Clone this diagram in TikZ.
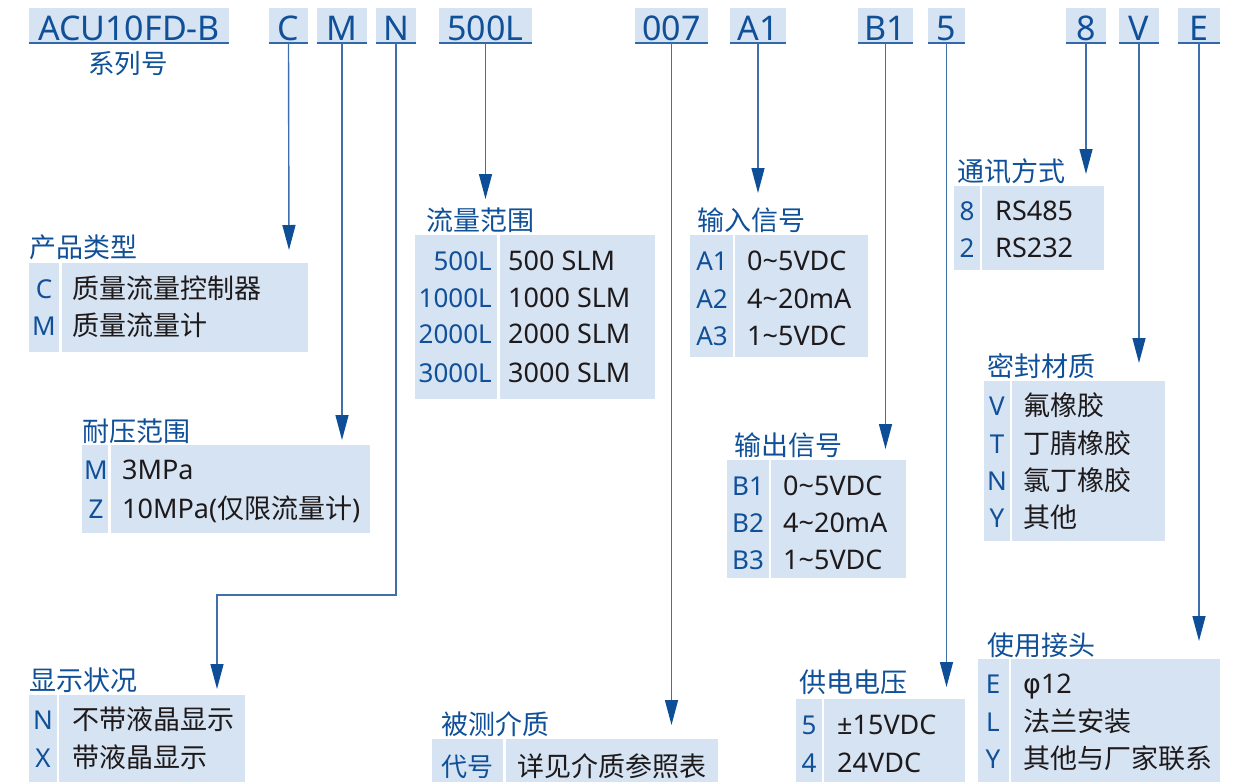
\documentclass[tikz,border=0pt]{standalone}
\usepackage{fontspec}
\setmainfont{Noto Sans}
\newfontfamily\cjk{Noto Sans CJK SC}
\newfontfamily\grk{DejaVu Sans}
\usetikzlibrary{arrows.meta}
\definecolor{cellfill}{RGB}{214,227,242}
\definecolor{codeblue}{RGB}{16,80,152}
\definecolor{linecol}{RGB}{62,112,172}
\definecolor{arrowcol}{RGB}{14,78,150}
\definecolor{desccol}{RGB}{30,26,27}
\definecolor{ulcol}{RGB}{50,105,170}
\tikzset{
  hbox/.style={fill=cellfill, inner sep=0pt, outer sep=0pt, minimum height=35pt},
  ulline/.style={draw=ulcol, line width=1.6pt},
  htext/.style={text=codeblue, font=\fontsize{34}{34}\selectfont, anchor=base, inner sep=0pt},
  subttl/.style={text=codeblue, font=\cjk\fontsize{26.5}{26.5}\selectfont, anchor=base, inner sep=0pt},
  conn/.style={draw=linecol, line width=1.4pt, -{Triangle[length=25pt, width=13pt, color=arrowcol]}},
  ttl/.style={text=codeblue, font=\cjk\fontsize{27}{27}\selectfont, anchor=base west, inner sep=0pt},
  cell/.style={fill=cellfill, inner sep=0pt, outer sep=0pt, anchor=north west},
  code/.style={text=codeblue, font=\fontsize{26}{26}\selectfont, anchor=base, inner sep=0pt},
  coderight/.style={code, anchor=base east},
  desc/.style={text=desccol, font=\fontsize{27}{27}\selectfont, anchor=base west, inner sep=0pt},
}
\newcommand\cellrect[5]{\node[cell, minimum width={#4-#2}, minimum height={#5-#3}] (#1) at (#2,#3) {};}
\newcommand\hdrbox[4]{%
  \node[hbox, minimum width={#3-#2}] (#1) at ({(#2+#3)/2},25.5) {};
  \draw[ulline] (#1.south west) -- (#1.south east);
  \node[htext] (#1t) at ({(#2+#3)/2},40) {#4};}
\newcommand\rowpair[6]{%
  \node[code] (#1c) at (#2,#4) {#5};
  \node[desc] (#1d) at (#3,#4) {#6};}
\begin{document}
\begin{tikzpicture}[x=1pt,y=-1pt]
\useasboundingbox (0,0) rectangle (1243,782);

% ---------- header ----------
\hdrbox{hS}{29}{229}{ACU10FD-B}
\node[subttl] (hSsub) at (128,73) {系列号};
\hdrbox{hC}{269}{308}{C}
\hdrbox{hM}{317}{367}{M}
\hdrbox{hN}{376}{416}{N}
\hdrbox{hL}{439}{532}{500L}
\hdrbox{hO}{635}{708}{007}
\hdrbox{hA}{730}{786}{A1}
\hdrbox{hB}{858}{913}{B1}
\hdrbox{hP}{928}{965}{5}
\hdrbox{hK}{1066}{1106}{8}
\hdrbox{hV}{1119}{1159}{V}
\hdrbox{hE}{1178}{1220}{E}

% ---------- tables ----------
% 产品类型
\node[ttl] (T1) at (29,257) {产品类型};
\cellrect{T1a}{29}{263}{59}{352}
\cellrect{T1b}{62}{263}{308}{352}
\rowpair{T1r1}{44}{72}{298}{C}{\cjk 质量流量控制器}
\rowpair{T1r2}{44}{72}{335}{M}{\cjk 质量流量计}

% 耐压范围
\node[ttl] (T2) at (82,441) {耐压范围};
\cellrect{T2a}{82}{445}{108}{533}
\cellrect{T2b}{111}{445}{370}{533}
\rowpair{T2r1}{96}{122}{479}{M}{3MPa}
\rowpair{T2r2}{96}{122}{518}{Z}{10MPa({\cjk 仅限流量计})}

% 显示状况
\node[ttl] (T3) at (29,690) {显示状况};
\cellrect{T3a}{29}{695}{57}{782}
\cellrect{T3b}{59}{695}{245}{782}
\rowpair{T3r1}{43}{72}{729}{N}{\cjk 不带液晶显示}
\rowpair{T3r2}{43}{72}{767}{X}{\cjk 带液晶显示}

% 流量范围
\node[ttl] (T4) at (426,230) {流量范围};
\cellrect{T4a}{415}{235}{497}{399}
\cellrect{T4b}{500}{235}{655}{399}
\node[coderight] (T4r1c) at (492,270) {500L};
\node[desc] (T4r1d) at (508,270) {500 SLM};
\node[coderight] (T4r2c) at (492,307) {1000L};
\node[desc] (T4r2d) at (508,307) {1000 SLM};
\node[coderight] (T4r3c) at (492,343) {2000L};
\node[desc] (T4r3d) at (508,343) {2000 SLM};
\node[coderight] (T4r4c) at (492,382) {3000L};
\node[desc] (T4r4d) at (508,382) {3000 SLM};

% 被测介质
\node[ttl] (T5) at (441,734) {被测介质};
\cellrect{T5a}{432}{739}{503}{782}
\cellrect{T5b}{506}{739}{718}{782}
\rowpair{T5r1}{467}{517}{776}{\cjk 代号}{\cjk 详见介质参照表}

% 输入信号
\node[ttl] (T6) at (697,230) {输入信号};
\cellrect{T6a}{690}{235}{733}{357}
\cellrect{T6b}{735}{235}{868}{357}
\rowpair{T6r1}{712}{747}{270}{A1}{0\textasciitilde 5VDC}
\rowpair{T6r2}{712}{747}{308}{A2}{4\textasciitilde 20mA}
\rowpair{T6r3}{712}{747}{345}{A3}{1\textasciitilde 5VDC}

% 输出信号
\node[ttl] (T7) at (734,455) {输出信号};
\cellrect{T7a}{727}{460}{769}{578}
\cellrect{T7b}{771}{460}{906}{578}
\rowpair{T7r1}{748}{783}{495}{B1}{0\textasciitilde 5VDC}
\rowpair{T7r2}{748}{783}{532}{B2}{4\textasciitilde 20mA}
\rowpair{T7r3}{748}{783}{569}{B3}{1\textasciitilde 5VDC}

% 供电电压
\node[ttl] (T8) at (799,692) {供电电压};
\cellrect{T8a}{796}{699}{822}{782}
\cellrect{T8b}{824}{699}{965}{782}
\rowpair{T8r1}{809}{837}{734}{5}{±15VDC}
\rowpair{T8r2}{809}{837}{772}{4}{24VDC}

% 通讯方式
\node[ttl] (T9) at (957,181) {通讯方式};
\cellrect{T9a}{954}{186}{980}{270}
\cellrect{T9b}{982}{186}{1104}{270}
\rowpair{T9r1}{967}{995}{220}{8}{RS485}
\rowpair{T9r2}{967}{995}{257}{2}{RS232}

% 密封材质
\node[ttl] (T10) at (987,376) {密封材质};
\cellrect{T10a}{984}{381}{1010}{541}
\cellrect{T10b}{1012}{381}{1165}{541}
\rowpair{T10r1}{997}{1023}{415}{V}{\cjk 氟橡胶}
\rowpair{T10r2}{997}{1023}{453}{T}{\cjk 丁腈橡胶}
\rowpair{T10r3}{997}{1023}{490}{N}{\cjk 氯丁橡胶}
\rowpair{T10r4}{997}{1023}{527}{Y}{\cjk 其他}

% 使用接头
\node[ttl] (T11) at (987,655) {使用接头};
\cellrect{T11a}{978}{659}{1009}{782}
\cellrect{T11b}{1011}{659}{1220}{782}
\rowpair{T11r1}{993}{1023}{693}{E}{{\grk φ}12}
\rowpair{T11r2}{993}{1023}{731}{L}{\cjk 法兰安装}
\rowpair{T11r3}{993}{1023}{768}{Y}{\cjk 其他与厂家联系}

% ---------- connectors ----------
\coordinate (aC) at (289,250);
\coordinate (aM) at (342,440);
\coordinate (nb) at (396,595);
\coordinate (aN) at (217,689);
\coordinate (aL) at (485.5,199);
\coordinate (aO) at (671.5,725);
\coordinate (aA) at (758,193);
\coordinate (aB) at (885.5,449);
\coordinate (aP) at (946.5,687);
\coordinate (aK) at (1086,174);
\coordinate (aV) at (1139,363);
\coordinate (aE) at (1199,641);
\draw[conn] (hC.south) -- (aC);
\draw[conn] (hM.south) -- (aM);
\draw[conn] (hN.south) -- (nb) -| (aN);
\draw[conn] (hL.south) -- (aL);
\draw[conn] (hO.south) -- (aO);
\draw[conn] (hA.south) -- (aA);
\draw[conn] (hB.south) -- (aB);
\draw[conn] (hP.south) -- (aP);
\draw[conn] (hK.south) -- (aK);
\draw[conn] (hV.south) -- (aV);
\draw[conn] (hE.south) -- (aE);
\end{tikzpicture}
\end{document}
